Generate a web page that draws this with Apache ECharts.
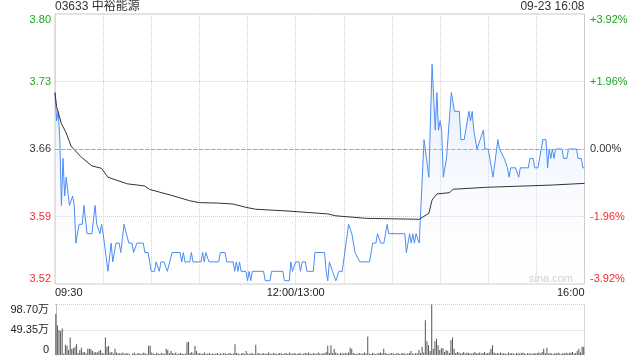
<!DOCTYPE html>
<html>
<head>
<meta charset="utf-8">
<script src="https://cdn.jsdelivr.net/npm/echarts@6/dist/echarts.min.js"></script>
<style>
html,body{margin:0;padding:0;background:#fff;}
#c{width:640px;height:360px;}
</style>
</head>
<body>
<div id="c"></div>
<script>
// ---- data ----
var stockTitle = '03633 中裕能源';
var stampText = '09-23 16:08';
var preClose = 3.66;
// price vertices: [minute from 09:30 (trading minutes), price]
var priceMinutes = [0,1,2,3,4,5,6,7,9,10,11,12,13,15,17,18,20,23,25,26,27,28,29,30,33,35,36,38,40,41,43,44,46,48,49,51,55,56,58,60,62,63,65,66,68,70,71,73,78,79,80,81,84,85,86,91,92,93,94,96,102,103,106,107,111,112,113,114,115,116,119,120,121,122,123,130,131,134,135,142,143,146,147,148,150,152,153,154,156,157,161,162,168,169,170,171,172,173,175,177,179,183,184,185,186,187,190,196,198,200,201,202,203,205,206,207,208,218,219,221,222,223,224,225,226,227,228,230,231,233,235,237,238,239,240,241,242,244,245,247,249,252,253,255,256,257,258,259,260,261,263,265,266,267,268,270,272,273,274,276,277,278,280,281,282,283,284,287,289,290,295,296,298,299,301,302,304,306,307,308,309,310,311,312,316,317,319,320,325,326,328,329,330];
var priceValues = [3.72,3.69,3.70,3.67,3.60,3.65,3.61,3.63,3.60,3.60,3.61,3.60,3.56,3.58,3.58,3.60,3.57,3.57,3.60,3.58,3.58,3.57,3.58,3.57,3.53,3.56,3.54,3.56,3.56,3.55,3.58,3.58,3.56,3.56,3.55,3.56,3.56,3.55,3.55,3.53,3.53,3.54,3.53,3.54,3.54,3.53,3.53,3.55,3.55,3.54,3.55,3.54,3.54,3.55,3.54,3.54,3.55,3.54,3.55,3.54,3.54,3.55,3.55,3.54,3.54,3.53,3.54,3.53,3.54,3.53,3.53,3.52,3.53,3.52,3.53,3.53,3.52,3.52,3.53,3.53,3.52,3.52,3.54,3.53,3.54,3.54,3.53,3.54,3.54,3.53,3.53,3.55,3.55,3.53,3.52,3.54,3.54,3.53,3.52,3.53,3.53,3.58,3.58,3.57,3.57,3.55,3.54,3.54,3.56,3.56,3.57,3.57,3.56,3.56,3.57,3.58,3.57,3.57,3.55,3.57,3.56,3.57,3.56,3.57,3.57,3.56,3.56,3.67,3.67,3.63,3.75,3.68,3.72,3.68,3.69,3.68,3.63,3.65,3.65,3.72,3.70,3.70,3.67,3.67,3.68,3.68,3.70,3.69,3.70,3.68,3.66,3.67,3.67,3.68,3.66,3.66,3.64,3.63,3.63,3.67,3.66,3.66,3.65,3.65,3.64,3.63,3.64,3.64,3.63,3.64,3.64,3.65,3.65,3.64,3.64,3.65,3.67,3.67,3.64,3.66,3.65,3.66,3.65,3.66,3.66,3.65,3.65,3.66,3.66,3.65,3.65,3.64,3.64];
// average price vertices
var avgMinutes = [0,1,4,7,10,16,23,29,33,45,56,59,72,84,90,102,111,119,125,146,170,175,194,227,233,235,238,246,248,269,310,330];
var avgValues = [3.72,3.705,3.687,3.677,3.663,3.652,3.642,3.6395,3.630,3.623,3.6207,3.617,3.611,3.605,3.603,3.6025,3.6015,3.598,3.596,3.594,3.591,3.589,3.5863,3.5853,3.5917,3.6058,3.6122,3.6136,3.6172,3.6193,3.6217,3.6235];
// volume per minute (万股), minute 0..330
var volumes = [
80,58,49,47,52,3,20,18,10,34,
12,13,16,21,4,10,14,5,6,3,
12,12,11,8,5,6,5,8,10,4,
3,34,16,18,5,6,3,12,5,3,
4,3,5,2,4,3,2,0,3,5,
2,3,4,2,3,5,3,2,18,18,
5,3,2,4,3,2,4,3,2,12,
10,3,8,4,3,5,2,3,4,3,
2,3,25,26,4,6,3,18,8,3,
4,2,3,5,2,3,4,2,3,2,
3,4,2,3,2,4,3,2,3,4,
2,3,21,4,3,2,3,4,2,8,
3,2,4,3,2,20,3,4,2,3,
4,2,3,5,3,2,4,3,2,3,
4,3,2,3,4,2,5,3,2,4,
3,2,4,3,2,3,4,3,5,3,
2,4,3,2,5,3,2,4,3,6,
18,4,19,4,12,5,3,2,4,3,
3,4,3,5,14,12,4,3,2,3,
4,2,3,5,3,36,3,2,4,3,
2,3,4,5,3,12,4,3,2,3,
4,3,2,3,4,2,3,4,3,2,
3,4,8,3,2,4,3,10,4,16,
5,68,27,19,8,98.7,12,27,32,19,
10,13,13,6,10,8,4,29,34,12,
4,6,5,3,4,6,3,5,4,3,
3,4,6,3,4,5,3,4,6,3,
4,5,12,19,5,3,4,3,5,3,
4,3,2,5,3,4,3,2,4,3,
3,4,5,3,2,4,3,3,2,4,
3,4,5,3,6,12,4,14,3,4,
3,2,4,3,5,3,2,4,3,5,
3,4,5,6,3,4,8,12,5,16,
16];
// tick labels (bottom -> top)
var priceTickLabels = ['3.52','3.59','3.66','3.73','3.80'];
var pctTickLabels = ['-3.92%','-1.96%','0.00%','+1.96%','+3.92%'];
var volTickLabels = ['0','49.35万','98.70万'];
var timeTickMinutes = [0,150,330];
var timeTickLabels = ['09:30','12:00/13:00','16:00'];

// ---- chart ----
var GREEN = '#1ea51e', RED = '#f02b2b', DARK = '#333';
var FONT = 'Arial, "Liberation Sans", "Noto Sans CJK SC", sans-serif';
function toPct(p){ return (p / preClose - 1) * 100; }
var priceData = priceMinutes.map(function(m,i){ return [m, toPct(priceValues[i])]; });
var avgData = avgMinutes.map(function(m,i){ return [m, toPct(avgValues[i])]; });
var volData = volumes.map(function(v,i){ return [i, v]; });
function tickColor(v, i){ return i < 2 ? RED : (i === 2 ? DARK : GREEN); }

var chart = echarts.init(document.getElementById('c'), null, {renderer:'canvas'});
chart.setOption({
  animation: false,
  textStyle: {fontFamily: FONT},
  title: [
    {text: stockTitle, left: 55, top: 1, padding: 0, textStyle: {fontSize: 12, fontWeight: 'normal', color: '#333', fontFamily: FONT}},
    {text: stampText, right: 55.5, top: 1, padding: 0, textStyle: {fontSize: 12, fontWeight: 'normal', color: '#333', fontFamily: FONT}}
  ],
  graphic: [{
    type: 'text', x: 573, y: 279, silent: true,
    style: {text: 'sina.com', fill: '#c8c8c8', font: '11px ' + FONT, align: 'right', verticalAlign: 'middle'}
  }],
  grid: [
    {left: 55, right: 55.5, top: 14, height: 270, show: true, borderColor: '#c8c8c8', borderWidth: 1, backgroundColor: 'transparent'},
    {left: 55, right: 55.5, top: 304.5, height: 50.5}
  ],
  xAxis: [
    {type: 'value', gridIndex: 0, min: 0, max: 330, interval: 30,
     axisLine: {show: false}, axisTick: {show: false},
     splitLine: {show: true, lineStyle: {color: '#cfcfcf', type: 'dotted'}},
     axisLabel: {show: true, margin: 3, fontSize: 11, color: '#222', fontFamily: FONT,
       showMinLabel: true, showMaxLabel: true, alignMinLabel: 'left', alignMaxLabel: 'right',
       formatter: function(v){ var k = timeTickMinutes.indexOf(Math.round(v)); return k >= 0 ? timeTickLabels[k] : ''; }}},
    {type: 'value', gridIndex: 1, min: -0.5, max: 330.5,
     axisLine: {show: false}, axisTick: {show: false}, axisLabel: {show: false}, splitLine: {show: false}}
  ],
  yAxis: [
    {type: 'value', gridIndex: 0, min: -3.92, max: 3.92, interval: 1.96, position: 'left',
     axisLine: {show: false}, axisTick: {show: false},
     splitLine: {show: true, showMinLine: false, showMaxLine: false, lineStyle: {color: '#cfcfcf', type: 'dotted'}},
     axisLabel: {margin: 4, fontSize: 11, fontFamily: FONT, color: tickColor,
       verticalAlignMinLabel: 'bottom', verticalAlignMaxLabel: 'top',
       formatter: function(v, i){ return priceTickLabels[i]; }}},
    {type: 'value', gridIndex: 0, min: -3.92, max: 3.92, interval: 1.96, position: 'right',
     axisLine: {show: false}, axisTick: {show: false}, splitLine: {show: false},
     axisLabel: {margin: 5.5, fontSize: 11, fontFamily: FONT, color: tickColor,
       verticalAlignMinLabel: 'bottom', verticalAlignMaxLabel: 'top',
       formatter: function(v, i){ return pctTickLabels[i]; }}},
    {type: 'value', gridIndex: 1, min: 0, max: 98.7, interval: 49.35, position: 'left',
     axisLine: {show: true, lineStyle: {color: '#bdbdbd'}}, axisTick: {show: false},
     splitLine: {show: true, showMinLine: false, lineStyle: {color: '#cfcfcf', type: 'dotted'}},
     axisLabel: {margin: 6, fontSize: 11, fontFamily: FONT, color: '#222',
       verticalAlignMinLabel: 'bottom', verticalAlignMaxLabel: 'top',
       formatter: function(v, i){ return volTickLabels[i]; }}},
    {type: 'value', gridIndex: 1, min: 0, max: 98.7, position: 'right',
     axisLine: {show: true, lineStyle: {color: '#cfcfcf', type: 'dotted'}}, axisTick: {show: false},
     axisLabel: {show: false}, splitLine: {show: false}}
  ],
  series: [
    {type: 'line', xAxisIndex: 0, yAxisIndex: 0, data: priceData, symbol: 'none', z: 3,
     lineStyle: {color: '#4b8cf3', width: 1},
     areaStyle: {origin: 'start', color: new echarts.graphic.LinearGradient(0,0,0,1,[
       {offset: 0, color: 'rgba(205,222,250,0.85)'}, {offset: 1, color: 'rgba(255,255,255,0.2)'}])},
     markLine: {silent: true, symbol: 'none', label: {show: false},
       lineStyle: {color: '#a8a8a8', type: [4,2], width: 1}, data: [{yAxis: 0}]}},
    {type: 'line', xAxisIndex: 0, yAxisIndex: 0, data: avgData, symbol: 'none', z: 4,
     lineStyle: {color: '#333', width: 1}},
    {type: 'bar', xAxisIndex: 1, yAxisIndex: 2, data: volData, barWidth: 1,
     itemStyle: {color: '#555'}}
  ]
});
</script>
</body>
</html>
